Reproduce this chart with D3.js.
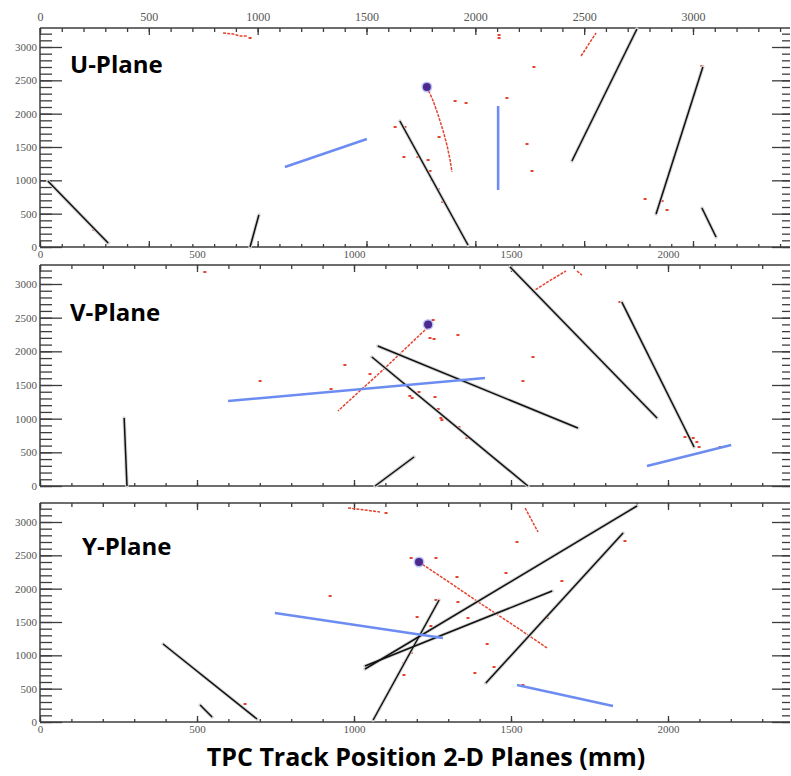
<!DOCTYPE html>
<html>
<head>
<meta charset="utf-8">
<script src="https://cdn.jsdelivr.net/npm/d3@7/dist/d3.min.js"></script>
<style>
  body { margin: 0; background: #fff; }
  .tick text { font-family: 'Liberation Serif', 'DejaVu Serif', serif; fill: #555; }
  .plane-label, .title { font-family: 'Open Sans', Lato, sans-serif; font-weight: 700; fill: #000; }
</style>
</head>
<body>
<svg id="chart" width="791" height="776"></svg>
<script>
// tick values
const wireTicks = d3.range(0, 3500, 100);
const wireLabels = [0, 500, 1000, 1500, 2000, 2500, 3000];
const mmTicks = d3.range(0, 2400, 100);
const mmLabels = [0, 500, 1000, 1500, 2000];
const timeTicks = d3.range(0, 3300, 100);
const timeLabels = [0, 500, 1000, 1500, 2000, 2500, 3000];

// U-plane: [x1, y1, x2, y2] in mm / time ticks
const uTracks = [
  [25, 990, 217, 60],
  [669, 0, 697, 480],
  [1146, 1890, 1363, 30],
  [1694, 1290, 1901, 3270],
  [1962, 495, 2111, 2700],
  [2108, 585, 2153, 150]
];
const uShowers = [
  [780, 1200, 1041, 1620],
  [1459, 2115, 1459, 855]
];
const uTrails = [
  [[1232, 2400], [1251, 2205], [1268, 1980], [1283, 1755], [1296, 1530], [1306, 1305], [1312, 1125]],
  [[583, 3210], [615, 3195], [637, 3165], [659, 3165]],
  [[1723, 2865], [1771, 3210]]
];
const uHits = [
  [669, 3135], [1462, 3180], [1462, 3135], [1573, 2700], [2108, 2715], [1322, 2190],
  [1357, 2160], [1487, 2235], [1131, 1800], [1162, 1800], [1271, 1650], [1159, 1350],
  [1204, 1350], [1236, 1305], [1242, 1140], [1248, 1005], [1268, 870], [1283, 675],
  [1551, 1545], [1567, 1140], [1927, 720], [1981, 690], [1997, 555], [172, 255]
];
const uVertex = [1232, 2400];

// V-plane
const vTracks = [
  [268, 1010, 277, 0],
  [1067, 0, 1191, 431],
  [1057, 1916, 1554, 0],
  [1076, 2079, 1713, 861],
  [1497, 3252, 1965, 1010],
  [1853, 2732, 2083, 579]
];
const vShowers = [
  [599, 1262, 1417, 1604],
  [1933, 297, 2201, 609]
];
const vTrails = [
  [[1236, 2361], [1164, 2042], [1092, 1723], [1020, 1418], [949, 1114]],
  [[1567, 2881], [1620, 3040], [1675, 3193]],
  [[1710, 3193], [1726, 3133]]
];
const vHits = [
  [525, 3178], [971, 1797], [1252, 2465], [1242, 2198], [1255, 2183], [1331, 2242],
  [1570, 1916], [1538, 1559], [701, 1559], [841, 1366], [927, 1440], [1051, 1663],
  [1178, 1337], [1185, 1307], [1207, 1396], [1258, 1322], [1268, 1143], [1277, 1010],
  [1280, 980], [1334, 876], [1360, 713], [2054, 728], [2080, 713], [2092, 653],
  [2099, 579], [2166, 579], [1847, 2732]
];
const vVertex = [1236, 2400];

// Y-plane
const yTracks = [
  [392, 1170, 691, 45],
  [510, 255, 548, 75],
  [1061, 30, 1271, 1830],
  [1035, 840, 1631, 1965],
  [1035, 795, 1901, 3240],
  [1420, 585, 1857, 2835]
];
const yShowers = [
  [748, 1635, 1283, 1260],
  [1519, 555, 1825, 240]
];
const yTrails = [
  [[1207, 2400], [1310, 2075], [1410, 1755], [1515, 1430], [1615, 1110]],
  [[1545, 3210], [1586, 2850]],
  [[981, 3210], [1035, 3180], [1083, 3150]]
];
const yHits = [
  [1102, 3135], [924, 1890], [1519, 2700], [1182, 2460], [1261, 2460], [1328, 2175],
  [1484, 2235], [1662, 2115], [1331, 1800], [1261, 1830], [1201, 1575], [1363, 1560],
  [1615, 1560], [1863, 2715], [1245, 1440], [1424, 1170], [1385, 735], [1446, 825],
  [1159, 705], [1159, 885], [1182, 1035], [653, 270], [1538, 555]
];
const yVertex = [1207, 2400];

const left = 40, right = 790;
const axisColor = '#3c3c3c';
const fmt = d3.format('d');

const svg = d3.select('#chart');

const xMm = d3.scaleLinear().domain([0, 2000]).range([left, 668]);
const xWire = d3.scaleLinear().domain([0, 3000]).range([left, 693]);

const panels = [
  { name: 'U-Plane', top: 28, bottom: 247, y3000: 47, labelX: 70, labelY: 73,
    topTicks: 'wire', bottomTicks: 'wire', topLabels: true, bottomLabels: true,
    tracks: uTracks, showers: uShowers, trails: uTrails, hits: uHits, vertex: uVertex },
  { name: 'V-Plane', top: 265, bottom: 486, y3000: 284, labelX: 70, labelY: 321,
    topTicks: 'mm', bottomTicks: 'mm', topLabels: false, bottomLabels: false,
    tracks: vTracks, showers: vShowers, trails: vTrails, hits: vHits, vertex: vVertex },
  { name: 'Y-Plane', top: 503, bottom: 722, y3000: 522, labelX: 82, labelY: 555,
    topTicks: 'mm', bottomTicks: 'mm', topLabels: false, bottomLabels: true,
    tracks: yTracks, showers: yShowers, trails: yTrails, hits: yHits, vertex: yVertex }
];

const styleAxis = (sel, fontSize) => {
  sel.select('.domain').remove();
  sel.selectAll('.tick line').attr('stroke', axisColor).attr('stroke-width', 1.3);
  sel.selectAll('.tick text').attr('font-size', fontSize);
};

const addAxis = (axis, tx, ty, fontSize) => {
  svg.append('g')
  .attr('transform', `translate(${tx},${ty})`)
  .call(axis)
  .call(s => styleAxis(s, fontSize || 11));
};

const drawPanel = (p) => {
  const y = d3.scaleLinear().domain([0, 3000]).range([p.bottom, p.y3000]);
  const xt = p.topTicks === 'wire' ? xWire : xMm;
  const xb = p.bottomTicks === 'wire' ? xWire : xMm;
  const xTicksTop = p.topTicks === 'wire' ? wireTicks : mmTicks;
  const xTicksBottom = p.bottomTicks === 'wire' ? wireTicks : mmTicks;
  const xMajorTop = p.topTicks === 'wire' ? wireLabels : mmLabels;
  const xMajorBottom = p.bottomTicks === 'wire' ? wireLabels : mmLabels;

  // frame lines
  svg.append('line')
  .attr('x1', left).attr('x2', right)
  .attr('y1', p.top).attr('y2', p.top)
  .attr('stroke', axisColor).attr('stroke-width', 1.5);
  svg.append('line')
  .attr('x1', left).attr('x2', right)
  .attr('y1', p.bottom).attr('y2', p.bottom)
  .attr('stroke', axisColor).attr('stroke-width', 1.5);
  svg.append('line')
  .attr('x1', left).attr('x2', left)
  .attr('y1', p.top).attr('y2', p.bottom)
  .attr('stroke', axisColor).attr('stroke-width', 1.5);

  // left axis
  const yMinor = timeTicks.filter(v => y(v) > p.top + 2);
  addAxis(d3.axisLeft(y).tickValues(yMinor).tickSize(-12).tickFormat(''), left, 0);
  addAxis(d3.axisLeft(y).tickValues(timeLabels).tickSize(-22).tickPadding(3).tickFormat(fmt), left, 0);

  // right axis
  addAxis(d3.axisRight(y).tickValues(yMinor).tickSize(-8).tickFormat(''), right, 0);
  addAxis(d3.axisRight(y).tickValues(timeLabels).tickSize(-18).tickFormat(''), right, 0);

  // top axis
  addAxis(d3.axisTop(xt).tickValues(xTicksTop).tickSize(-4).tickFormat(''), 0, p.top);
  addAxis(d3.axisTop(xt).tickValues(xMajorTop).tickSize(-7)
    .tickFormat(p.topLabels ? fmt : '').tickPadding(7), 0, p.top, 12);

  // bottom axis
  addAxis(d3.axisBottom(xb).tickValues(xTicksBottom).tickSize(-3).tickFormat(''), 0, p.bottom);
  addAxis(d3.axisBottom(xb).tickValues(xMajorBottom).tickSize(-6).tickFormat(''), 0, p.bottom);
  if (p.bottomLabels) {
    addAxis(d3.axisBottom(xMm).tickValues(mmLabels).tickSize(0).tickPadding(3).tickFormat(fmt), 0, p.bottom, 11);
  }

  const g = svg.append('g');

  // red hit trails
  const line = d3.line().x(d => xMm(d[0])).y(d => y(d[1]));
  g.selectAll('.trail')
  .data(p.trails)
  .enter().append('path')
  .attr('d', line)
  .attr('fill', 'none')
  .attr('stroke', '#e4432f')
  .attr('stroke-width', 1.5)
  .attr('stroke-dasharray', '3,1.2');

  g.selectAll('.hit')
  .data(p.hits)
  .enter().append('rect')
  .attr('x', d => xMm(d[0]) - 1.5)
  .attr('y', d => y(d[1]) - 1)
  .attr('width', 3)
  .attr('height', 2)
  .attr('fill', '#e4432f');

  // tracks: halo then black line
  g.selectAll('.halo')
  .data(p.tracks)
  .enter().append('line')
  .attr('x1', d => xMm(d[0])).attr('y1', d => y(d[1]))
  .attr('x2', d => xMm(d[2])).attr('y2', d => y(d[3]))
  .attr('stroke', '#d4d4d4')
  .attr('stroke-width', 3.5)
  .attr('stroke-linecap', 'round');

  g.selectAll('.track')
  .data(p.tracks)
  .enter().append('line')
  .attr('x1', d => xMm(d[0])).attr('y1', d => y(d[1]))
  .attr('x2', d => xMm(d[2])).attr('y2', d => y(d[3]))
  .attr('stroke', '#111')
  .attr('stroke-width', 1.5);

  // showers in blue
  g.selectAll('.shower')
  .data(p.showers)
  .enter().append('line')
  .attr('x1', d => xMm(d[0])).attr('y1', d => y(d[1]))
  .attr('x2', d => xMm(d[2])).attr('y2', d => y(d[3]))
  .attr('stroke', '#6d8cf2')
  .attr('stroke-width', 2.6);

  // vertex
  g.append('circle')
  .attr('cx', xMm(p.vertex[0])).attr('cy', y(p.vertex[1]))
  .attr('r', 5.5)
  .attr('fill', '#8f9ef0')
  .attr('opacity', 0.6);
  g.append('circle')
  .attr('cx', xMm(p.vertex[0])).attr('cy', y(p.vertex[1]))
  .attr('r', 4)
  .attr('fill', '#4a2a8e');

  svg.append('text')
  .attr('class', 'plane-label')
  .attr('x', p.labelX)
  .attr('y', p.labelY)
  .attr('font-size', 24)
  .text(p.name);
};

panels.forEach(drawPanel);

svg.append('text')
.attr('class', 'title')
.attr('x', 426)
.attr('y', 766)
.attr('text-anchor', 'middle')
.attr('font-size', 25)
.text('TPC Track Position 2-D Planes (mm)');
</script>
</body>
</html>
